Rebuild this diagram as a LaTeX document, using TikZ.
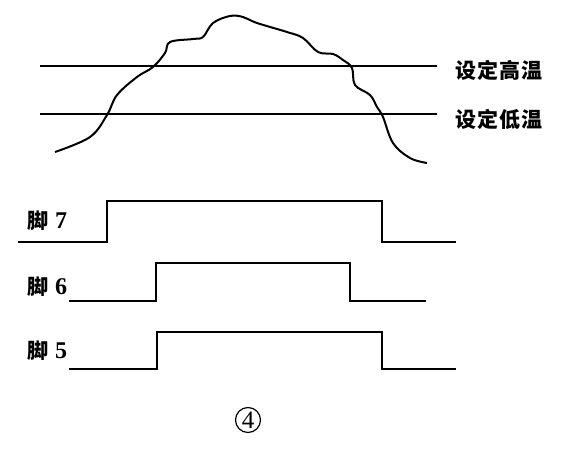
\documentclass[tikz,border=0pt]{standalone}
\usepackage{fontspec}
\setmainfont{Liberation Serif}
\newfontfamily\cjk{Noto Sans CJK SC}
\begin{document}
\begin{tikzpicture}[x=1pt,y=-1pt,
  wave/.style={line width=2pt,line join=miter},
  lbl/.style={anchor=west,inner sep=0pt,font=\fontsize{21}{21}\selectfont\bfseries},
  refline/.style={line width=2pt}]
\useasboundingbox (0,0) rectangle (576,458);
% temperature curve
\draw[line width=2pt] plot[smooth,tension=0.6] coordinates {
(55,152) (90,137) (107,115) (117,95) (137,77) (153,67) (165,53) (170,42)
(193,39) (203,37) (213,23) (230,16) (243,17) (257,23) (287,32) (303,38)
(318,52) (333,54) (343,60) (352,68) (355,85) (370,95) (377,107) (383,117)
(393,143) (410,158) (427,163)};
% set lines
\coordinate (h1) at (40,66); \coordinate (h2) at (437,66);
\coordinate (l1) at (40,114); \coordinate (l2) at (437,114);
\draw[refline] (h1) -- (h2);
\draw[refline] (l1) -- (l2);
\node[lbl] (hi) at (455,70) {\cjk 设\kern1pt 定\kern1pt 高\kern1pt 温};
\node[lbl] (lo) at (455,119) {\cjk 设\kern1pt 定\kern1pt 低\kern1pt 温};
% pin 7
\node[lbl] (p7) at (27,221) {{\cjk 脚}\kern7pt{\fontsize{24}{24}\selectfont 7}};
\draw[wave] (18,242) -- (107,242) -- (107,201) -- (382,201) -- (382,242) -- (456,242);
% pin 6
\node[lbl] (p6) at (27,287) {{\cjk 脚}\kern7pt{\fontsize{24}{24}\selectfont 6}};
\draw[wave] (69,301) -- (156,301) -- (156,263) -- (350,263) -- (350,301) -- (426,301);
% pin 5
\node[lbl] (p5) at (27,351) {{\cjk 脚}\kern7pt{\fontsize{24}{24}\selectfont 5}};
\draw[wave] (69,369) -- (157,369) -- (157,332) -- (382,332) -- (382,369) -- (456,369);
% circled 4
\node[circle,draw,line width=1.2pt,minimum size=25pt,inner sep=0pt,font=\fontsize{25}{25}\selectfont] (num) at (248,420) {4};
\end{tikzpicture}
\end{document}
